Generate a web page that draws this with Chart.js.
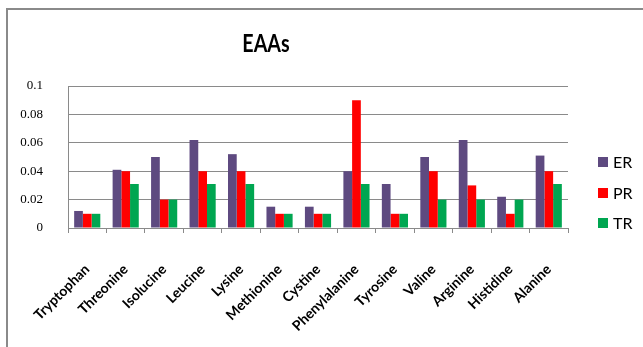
<!DOCTYPE html>
<html>
<head>
<meta charset="utf-8">
<script src="https://cdn.jsdelivr.net/npm/chart.js@4.4.1/dist/chart.umd.min.js"></script>
<style>
  html, body { margin: 0; padding: 0; background: #fff; }
  #wrap { position: relative; width: 643px; height: 347px; overflow: hidden; }
  #frame {
    position: absolute; left: 6px; top: 8px; width: 700px; height: 400px;
    border-left: 2px solid #8a8a8a; border-top: 2px solid #8a8a8a;
  }
  #myChart { position: absolute; left: 0; top: 0; }
</style>
</head>
<body>
<div id="wrap">
  <div id="frame"></div>
  <canvas id="myChart" width="643" height="347"></canvas>
</div>
<script>
// amino acids on the x axis
const aminoAcids = ['Tryptophan', 'Threonine', 'Isolucine', 'Leucine', 'Lysine', 'Methionine',
  'Cystine', 'Phenylalanine', 'Tyrosine', 'Valine', 'Arginine', 'Histidine', 'Alanine'];

// series values
const erValues = [0.012, 0.041, 0.050, 0.062, 0.052, 0.015, 0.015, 0.040, 0.031, 0.050, 0.062, 0.022, 0.051];
const prValues = [0.010, 0.040, 0.020, 0.040, 0.040, 0.010, 0.010, 0.090, 0.010, 0.040, 0.030, 0.010, 0.040];
const trValues = [0.010, 0.031, 0.020, 0.031, 0.031, 0.010, 0.010, 0.031, 0.010, 0.020, 0.020, 0.020, 0.031];

const seriesNames = ['ER', 'PR', 'TR'];
const seriesColors = ['#5e4a80', '#ff0000', '#00a651'];

// y axis ticks
const yMin = 0;
const yMax = 0.1;
const yStep = 0.02;

const chartTitle = 'EAAs';

// title and legend are drawn by hand so they sit where the layout wants them
const titleAndLegend = {
  id: 'titleAndLegend',
  afterDraw(chart) {
    const ctx = chart.ctx;
    ctx.save();
    ctx.fillStyle = '#000';
    ctx.font = 'bold 24px Lato, "Open Sans", sans-serif';
    ctx.textAlign = 'center';
    ctx.textBaseline = 'middle';
    // slightly condensed, like the narrow title face
    ctx.translate(266, 44);
    ctx.scale(0.82, 1);
    ctx.fillText(chartTitle, 0, 0);
    ctx.restore();

    ctx.save();
    const rows = [162, 193, 223];
    ctx.font = '16px Lato, "Open Sans", sans-serif';
    ctx.textAlign = 'left';
    ctx.textBaseline = 'middle';
    chart.data.datasets.forEach((ds, i) => {
      ctx.fillStyle = ds.backgroundColor;
      ctx.fillRect(598, rows[i] - 5, 10, 10);
      ctx.fillStyle = '#000';
      ctx.fillText(ds.label, 613, rows[i] + 1);
    });
    ctx.restore();
  },
};

const datasets = [erValues, prValues, trValues].map((values, i) => ({
  label: seriesNames[i],
  data: values,
  backgroundColor: seriesColors[i],
  borderWidth: 0,
  categoryPercentage: 0.68,
  barPercentage: 1.0,
}));

const ctx = document.getElementById('myChart').getContext('2d');
window.myChart = new Chart(ctx, {
  type: 'bar',
  data: { labels: aminoAcids, datasets: datasets },
  plugins: [titleAndLegend],
  options: {
    responsive: false,
    animation: false,
    layout: { padding: { top: 86, right: 75, bottom: 0, left: 0 } },
    plugins: {
      legend: { display: false },
      title: { display: false },
      tooltip: { enabled: false },
    },
    scales: {
      x: {
        afterFit: (scale) => { scale.height = 119; },
        grid: {
          offset: true,
          drawOnChartArea: false,
          drawTicks: true,
          tickLength: 5,
          color: '#8a8a8a',
        },
        border: { color: '#8a8a8a', width: 1 },
        ticks: {
          minRotation: 45,
          maxRotation: 45,
          padding: 28,
          color: '#000',
          font: { family: 'Lato, "Open Sans", sans-serif', size: 14, weight: 'bold' },
        },
      },
      y: {
        min: yMin,
        max: yMax,
        afterFit: (scale) => { scale.width = 68; },
        grid: { color: '#8a8a8a', drawTicks: false },
        border: { color: '#8a8a8a', width: 1 },
        ticks: {
          stepSize: yStep,
          padding: 25,
          color: '#000',
          font: { family: '"Liberation Serif", serif', size: 13 },
          callback: (v) => String(+v.toFixed(2)),
        },
      },
    },
  },
});
</script>
</body>
</html>
